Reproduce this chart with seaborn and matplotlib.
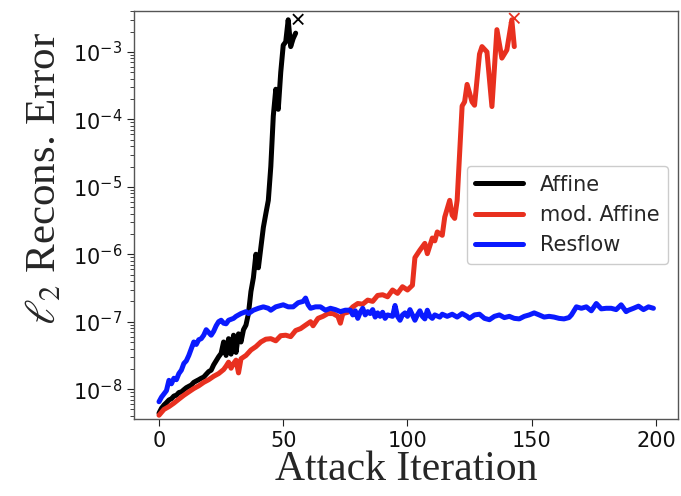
import matplotlib
matplotlib.use("Agg")
import matplotlib.pyplot as plt
import seaborn as sns
import pandas as pd

# ---------------- data ----------------
affine_iter = list(range(0, 56))
affine_err = [4.4e-9, 5.2e-9, 5.8e-9, 6.3e-9, 6.9e-9, 7.2e-9, 7.9e-9, 8.1e-9, 8.9e-9, 9.1e-9,
              9.8e-9, 1.05e-8, 1.10e-8, 1.15e-8, 1.26e-8, 1.32e-8, 1.38e-8, 1.45e-8, 1.51e-8, 1.66e-8,
              1.82e-8, 1.91e-8, 2.29e-8, 2.63e-8, 3.02e-8, 3.39e-8, 5.0e-8, 3.16e-8, 5.6e-8, 3.3e-8,
              6.3e-8, 3.5e-8, 6.6e-8, 5.0e-8, 7.6e-8, 8.9e-8, 1.32e-7, 2.8e-7, 4.5e-7, 1.0e-6,
              6.3e-7, 1.26e-6, 2.5e-6, 4.0e-6, 6.3e-6, 2.0e-5, 1.12e-4, 2.8e-4, 1.41e-4, 5.0e-4,
              1.26e-3, 1.41e-3, 3.0e-3, 1.2e-3, 1.58e-3, 1.9e-3]

mod_iter = [0, 2, 4, 6, 8, 10, 12, 14, 16, 18, 20, 22, 24, 26, 27, 28, 29, 30, 31, 32,
            33, 35, 37, 39, 41, 43, 45, 47, 49, 51, 53, 55, 57, 59, 61, 62, 64, 66, 68, 70,
            72, 73, 74, 76, 78, 80, 82, 84, 86, 88, 90, 92, 94, 96, 98, 100, 102, 103, 105, 107,
            108, 110, 111, 112, 114, 115, 117, 118, 119, 120, 122, 123, 124, 126, 127, 129, 130, 132, 134, 136,
            138, 140, 142, 143]
mod_err = [4.1e-9, 5.0e-9, 5.5e-9, 6.2e-9, 7.1e-9, 8.1e-9, 9.1e-9, 1.02e-8, 1.12e-8, 1.26e-8,
           1.38e-8, 1.55e-8, 1.70e-8, 1.95e-8, 2.19e-8, 2.51e-8, 2.04e-8, 2.40e-8, 2.69e-8, 1.74e-8,
           2.82e-8, 3.16e-8, 3.80e-8, 4.27e-8, 5.0e-8, 5.5e-8, 5.6e-8, 5.2e-8, 6.2e-8, 6.3e-8,
           6.0e-8, 7.4e-8, 7.9e-8, 8.9e-8, 1.0e-7, 8.7e-8, 1.12e-7, 1.20e-7, 1.32e-7, 1.32e-7,
           1.20e-7, 9.5e-8, 1.32e-7, 1.38e-7, 1.66e-7, 1.86e-7, 1.82e-7, 2.09e-7, 2.0e-7, 2.45e-7,
           2.51e-7, 2.34e-7, 2.95e-7, 2.63e-7, 3.3e-7, 2.95e-7, 3.47e-7, 8.9e-7, 1.15e-6, 1.45e-6,
           1.02e-6, 1.74e-6, 1.58e-6, 2.14e-6, 1.91e-6, 3.55e-6, 6.3e-6, 3.8e-6, 3.4e-6, 6.3e-6,
           1.58e-4, 1.82e-4, 3.3e-4, 1.82e-4, 1.62e-4, 9.3e-4, 1.20e-3, 1.0e-3, 1.55e-4, 2.14e-3,
           8.1e-4, 1.07e-3, 3.0e-3, 1.20e-3]

res_iter = [0, 1, 2, 3, 4, 5, 6, 7, 8, 9, 10, 11, 12, 13, 14, 15, 16, 17, 18, 19,
            20, 21, 22, 23, 24, 25, 26, 27, 28, 30, 31, 33, 35, 36, 38, 40, 42, 44, 45, 47,
            49, 50, 52, 54, 56, 58, 59, 60, 61, 63, 65, 67, 69, 71, 73, 75, 77, 78, 79, 80,
            81, 82, 83, 84, 85, 86, 87, 88, 89, 90, 91, 92, 94, 95, 96, 97, 98, 99, 100, 101,
            102, 103, 104, 105, 106, 107, 108, 109, 110, 111, 113, 114, 116, 118, 120, 122, 124, 125, 127, 129,
            131, 133, 135, 137, 139, 141, 143, 145, 147, 149, 151, 153, 155, 157, 159, 161, 163, 165, 166, 168,
            170, 172, 174, 176, 178, 180, 182, 184, 186, 188, 189, 191, 193, 195, 197, 199]
res_err = [6.5e-9, 7.6e-9, 8.5e-9, 9.5e-9, 1.35e-8, 1.20e-8, 1.45e-8, 1.38e-8, 1.70e-8, 1.91e-8,
           2.40e-8, 2.63e-8, 3.16e-8, 3.98e-8, 5.0e-8, 4.6e-8, 5.4e-8, 5.6e-8, 6.3e-8, 7.6e-8,
           6.9e-8, 6.3e-8, 7.2e-8, 8.7e-8, 1.0e-7, 1.05e-7, 9.5e-8, 9.3e-8, 1.05e-7, 1.12e-7,
           1.20e-7, 1.32e-7, 1.41e-7, 1.32e-7, 1.48e-7, 1.58e-7, 1.66e-7, 1.58e-7, 1.48e-7, 1.66e-7,
           1.74e-7, 1.78e-7, 1.66e-7, 1.66e-7, 1.91e-7, 2.0e-7, 2.24e-7, 1.78e-7, 1.58e-7, 1.66e-7,
           1.66e-7, 1.48e-7, 1.58e-7, 1.51e-7, 1.41e-7, 1.48e-7, 1.48e-7, 1.26e-7, 1.45e-7, 1.12e-7,
           1.38e-7, 1.58e-7, 1.26e-7, 1.41e-7, 1.32e-7, 1.51e-7, 1.17e-7, 1.35e-7, 1.20e-7, 1.38e-7,
           1.12e-7, 1.26e-7, 1.20e-7, 1.74e-7, 1.20e-7, 1.05e-7, 1.26e-7, 1.35e-7, 1.20e-7, 1.51e-7,
           1.26e-7, 1.05e-7, 1.26e-7, 1.45e-7, 1.20e-7, 1.10e-7, 1.48e-7, 1.20e-7, 1.12e-7, 1.26e-7,
           1.17e-7, 1.29e-7, 1.20e-7, 1.29e-7, 1.17e-7, 1.32e-7, 1.20e-7, 1.12e-7, 1.26e-7, 1.29e-7,
           1.12e-7, 1.07e-7, 1.20e-7, 1.26e-7, 1.15e-7, 1.20e-7, 1.12e-7, 1.10e-7, 1.20e-7, 1.26e-7,
           1.35e-7, 1.26e-7, 1.17e-7, 1.20e-7, 1.17e-7, 1.12e-7, 1.10e-7, 1.15e-7, 1.26e-7, 1.66e-7,
           1.58e-7, 1.66e-7, 1.45e-7, 1.86e-7, 1.55e-7, 1.58e-7, 1.58e-7, 1.51e-7, 1.78e-7, 1.41e-7,
           1.48e-7, 1.58e-7, 1.70e-7, 1.51e-7, 1.66e-7, 1.58e-7]

fail_iter = [56, 143]
fail_err = [3.05e-3, 3.16e-3]

series_names = ["Affine", "mod. Affine", "Resflow"]
series_colors = ["#000000", "#e8301f", "#0a1aff"]
x_ticks = [0, 50, 100, 150, 200]

# ---------------- figure ----------------
sns.set_style("ticks")
plt.rcParams["font.family"] = ["DejaVu Sans"]

fig = plt.figure(figsize=(6.81, 4.96), dpi=100)
ax = fig.add_axes([0.197, 0.155, 0.799, 0.823])

frames = [
    pd.DataFrame({"iter": affine_iter, "err": affine_err, "method": series_names[0]}),
    pd.DataFrame({"iter": mod_iter, "err": mod_err, "method": series_names[1]}),
    pd.DataFrame({"iter": res_iter, "err": res_err, "method": series_names[2]}),
]
df = pd.concat(frames, ignore_index=True)

sns.lineplot(data=df, x="iter", y="err", hue="method", hue_order=series_names,
             palette=series_colors, linewidth=3.6, ax=ax, estimator=None, sort=False)

sns.scatterplot(x=fail_iter, y=fail_err, hue=series_names[:2], palette=series_colors[:2],
                marker="x", s=55, linewidth=1.3, ax=ax, legend=False, zorder=5)

ax.set_yscale("log")
ax.set_xlim(-10, 209)
ax.set_ylim(3.59e-9, 4.06e-3)
ax.set_xticks(x_ticks)

for sp in ax.spines.values():
    sp.set_visible(True)
    sp.set_color("#555555")
    sp.set_linewidth(1.0)

ax.tick_params(axis="both", which="major", labelsize=15, length=5, width=0.8,
               colors="#222222", labelcolor="#111111")
ax.tick_params(axis="y", which="minor", length=2.8, width=0.6, colors="#222222")

ax.set_xlabel("Attack Iteration", fontsize=30, family="Liberation Serif",
              math_fontfamily="stix", labelpad=0)
ax.set_ylabel(r"$\ell_2$ Recons. Error", fontsize=31, family="Liberation Serif",
              math_fontfamily="stix")
ax.yaxis.set_label_coords(-0.128, 0.59)

leg = ax.legend(loc="center right", fontsize=15, handlelength=2.3, frameon=True,
                framealpha=1.0, edgecolor="#cccccc", fancybox=True)
for line in leg.get_lines():
    line.set_linewidth(3.6)

fig.savefig("out.png", dpi=100)
